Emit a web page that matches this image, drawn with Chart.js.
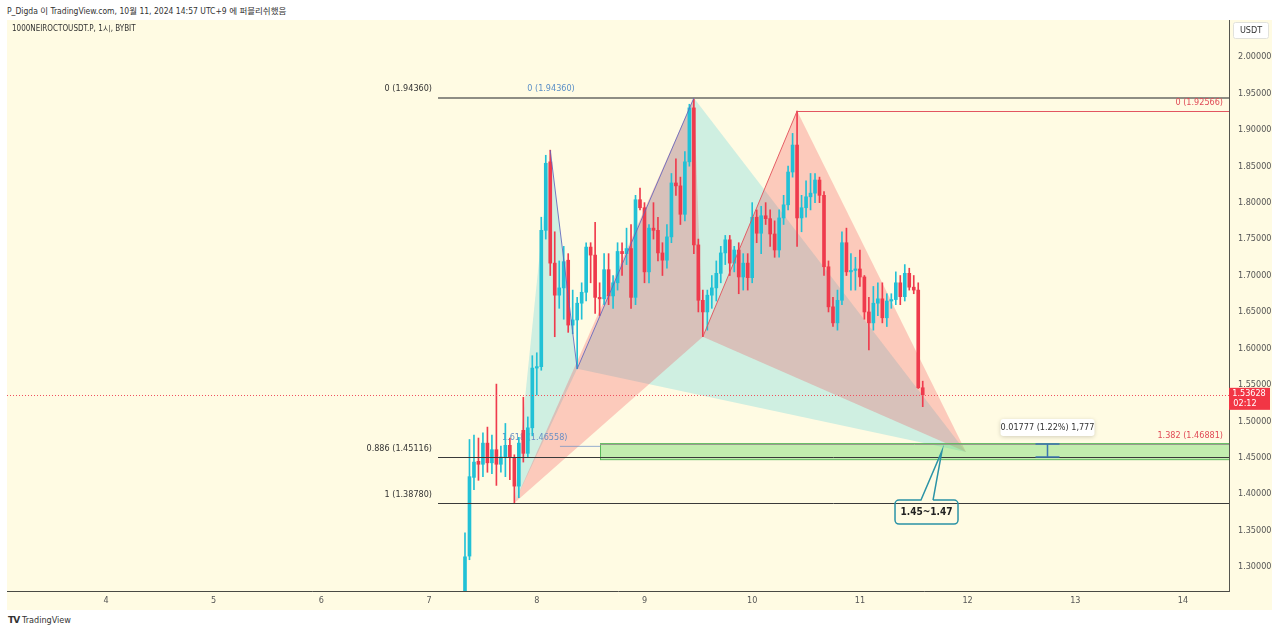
<!DOCTYPE html>
<html>
<head>
<meta charset="utf-8">
<script src="https://cdn.jsdelivr.net/npm/chart.js@4.4.1/dist/chart.umd.min.js"></script>
<style>
  body { margin: 0; background: #fff; width: 1280px; height: 634px; overflow: hidden; position: relative;
         font-family: "Liberation Sans Narrow", "DejaVu Sans Condensed", "Liberation Sans", "Noto Sans CJK KR", sans-serif; }
  #hdr { position: absolute; left: 7px; top: 4px; font-size: 8.5px; color: #333; white-space: nowrap; }
  #panel { position: absolute; left: 7px; top: 20px; width: 1265px; height: 590px; background: #fffbe3; }
  #foot { position: absolute; left: 8px; top: 615px; font-size: 9px; color: #333; white-space: nowrap; }
  #foot b { font-family: "DejaVu Sans", sans-serif; font-size: 9px; letter-spacing: -1px; margin-right: 3px; }
</style>
</head>
<body>
<div id="hdr">P_Digda 이 TradingView.com, 10월 11, 2024 14:57 UTC+9 에 퍼블리쉬했음</div>
<div id="panel"><canvas id="c"></canvas></div>
<div id="foot"><b>TV</b>TradingView</div>
<script>
// 1h candles, first one at day 7 08:00 (UTC+9)
const firstDay = 7;
const firstHour = 8;
const opens = [1.240, 1.315, 1.423, 1.445, 1.441, 1.470, 1.443, 1.461, 1.441, 1.451,
  1.467, 1.450, 1.411, 1.4876, 1.456, 1.491, 1.573, 1.575, 1.762, 1.856,
  1.717, 1.673, 1.683, 1.721, 1.632, 1.639, 1.662, 1.677, 1.739, 1.728,
  1.670, 1.668, 1.708, 1.672, 1.690, 1.733, 1.730, 1.737, 1.670, 1.804,
  1.793, 1.705, 1.765, 1.762, 1.731, 1.721, 1.753, 1.827, 1.823, 1.784,
  1.856, 1.930, 1.742, 1.666, 1.650, 1.673, 1.683, 1.703, 1.731, 1.749,
  1.717, 1.735, 1.698, 1.717, 1.697, 1.780, 1.758, 1.782, 1.778, 1.757,
  1.735, 1.779, 1.797, 1.842, 1.879, 1.779, 1.793, 1.808, 1.813, 1.831,
  1.810, 1.712, 1.657, 1.635, 1.666, 1.745, 1.705, 1.707, 1.709, 1.698,
  1.650, 1.635, 1.662, 1.668, 1.642, 1.665, 1.667, 1.690, 1.671, 1.703,
  1.684, 1.680, 1.546];
const highs = [1.347, 1.475, 1.481, 1.477, 1.484, 1.492, 1.481, 1.551, 1.466, 1.497,
  1.477, 1.454, 1.478, 1.533, 1.506, 1.590, 1.594, 1.780, 1.865, 1.872,
  1.760, 1.720, 1.740, 1.730, 1.680, 1.670, 1.690, 1.745, 1.745, 1.773,
  1.690, 1.730, 1.730, 1.700, 1.745, 1.745, 1.765, 1.770, 1.810, 1.820,
  1.800, 1.770, 1.800, 1.780, 1.745, 1.770, 1.840, 1.860, 1.835, 1.870,
  1.935, 1.9436, 1.750, 1.680, 1.680, 1.700, 1.720, 1.740, 1.755, 1.755,
  1.740, 1.745, 1.730, 1.730, 1.800, 1.790, 1.795, 1.800, 1.790, 1.775,
  1.790, 1.810, 1.850, 1.895, 1.92566, 1.810, 1.830, 1.840, 1.840, 1.835,
  1.815, 1.720, 1.670, 1.680, 1.760, 1.765, 1.730, 1.725, 1.735, 1.700,
  1.670, 1.685, 1.690, 1.690, 1.675, 1.675, 1.705, 1.700, 1.715, 1.710,
  1.700, 1.690, 1.555];
const lows = [1.220, 1.310, 1.406, 1.419, 1.424, 1.430, 1.428, 1.412, 1.430, 1.424,
  1.420, 1.3878, 1.395, 1.444, 1.450, 1.480, 1.536, 1.570, 1.750, 1.700,
  1.616, 1.655, 1.640, 1.622, 1.620, 1.572, 1.640, 1.665, 1.690, 1.648,
  1.645, 1.660, 1.660, 1.655, 1.680, 1.700, 1.715, 1.655, 1.660, 1.790,
  1.690, 1.690, 1.750, 1.720, 1.700, 1.710, 1.745, 1.810, 1.770, 1.775,
  1.850, 1.730, 1.650, 1.616, 1.625, 1.655, 1.665, 1.690, 1.715, 1.700,
  1.705, 1.675, 1.680, 1.680, 1.690, 1.745, 1.730, 1.770, 1.740, 1.725,
  1.725, 1.770, 1.790, 1.835, 1.740, 1.760, 1.780, 1.790, 1.800, 1.800,
  1.700, 1.650, 1.630, 1.625, 1.660, 1.700, 1.680, 1.680, 1.685, 1.640,
  1.598, 1.625, 1.645, 1.635, 1.630, 1.655, 1.660, 1.660, 1.665, 1.680,
  1.675, 1.545, 1.520];
const closes = [1.314, 1.424, 1.444, 1.441, 1.470, 1.443, 1.461, 1.441, 1.451, 1.467,
  1.450, 1.411, 1.470, 1.456, 1.491, 1.573, 1.575, 1.762, 1.854, 1.717,
  1.673, 1.683, 1.719, 1.632, 1.639, 1.662, 1.677, 1.739, 1.728, 1.670,
  1.668, 1.708, 1.672, 1.690, 1.733, 1.730, 1.737, 1.670, 1.804, 1.793,
  1.705, 1.765, 1.762, 1.731, 1.721, 1.753, 1.827, 1.823, 1.784, 1.856,
  1.930, 1.742, 1.666, 1.650, 1.673, 1.683, 1.703, 1.731, 1.749, 1.717,
  1.735, 1.698, 1.717, 1.697, 1.780, 1.758, 1.782, 1.778, 1.757, 1.735,
  1.779, 1.797, 1.842, 1.879, 1.779, 1.793, 1.808, 1.813, 1.831, 1.810,
  1.712, 1.657, 1.635, 1.666, 1.745, 1.705, 1.707, 1.709, 1.698, 1.650,
  1.635, 1.662, 1.668, 1.642, 1.665, 1.667, 1.690, 1.671, 1.703, 1.684,
  1.680, 1.546, 1.53628];

const dayTicks = [4, 5, 6, 7, 8, 9, 10, 11, 12, 13, 14];
const priceTicks = [1.30, 1.35, 1.40, 1.45, 1.50, 1.55, 1.60, 1.65, 1.70, 1.75, 1.80, 1.85, 1.90, 1.95, 2.00];
const xRange = [3.081, 14.427];
const yRange = [1.2671, 2.0506];

// drawings (day, price)
const cyanPivots = [11, 19, 25, 51];          // X A B C candle indexes
const pinkPivots = [11, 51, 53, 74];
const pointD = [11.985, 1.4578];
const fibLeftStart = 7.083;
const fibLevels = [
  { price: 1.9436, label: '0 (1.94360)', color: '#8e8d84', width: 2 },
  { price: 1.45116, label: '0.886 (1.45116)', color: '#3a3a3a', width: 1 },
  { price: 1.3878, label: '1 (1.38780)', color: '#3a3a3a', width: 1 }
];
const zoneTop = 1.4700;
const zoneBottom = 1.4480;
const zoneStart = 8.587;
const lastPrice = 1.53628;

const cUp = '#22c1d6', cDown = '#ef3b4d';
const FONT = '"Liberation Sans Narrow", "DejaVu Sans Condensed", sans-serif';
const times = opens.map((_, i) => firstDay + (firstHour + i) / 24);
const colors = opens.map((o, i) => closes[i] >= o ? cUp : cDown);

function pivotPrice(i, k) { return k % 2 === 0 ? lows[i] : highs[i]; }

const overlay = {
  id: 'overlay',
  beforeDatasetsDraw(chart) {
    const { ctx, chartArea: a, scales: { x, y } } = chart;
    const P = (d, p) => [x.getPixelForValue(d), y.getPixelForValue(p)];
    const piv = (arr) => arr.map((i, k) => P(times[i], pivotPrice(i, k)));
    ctx.save();
    ctx.beginPath(); ctx.rect(a.left, a.top, a.width, a.height); ctx.clip();

    function tri(pts, fill) {
      ctx.beginPath();
      ctx.moveTo(pts[0][0], pts[0][1]);
      ctx.lineTo(pts[1][0], pts[1][1]);
      ctx.lineTo(pts[2][0], pts[2][1]);
      ctx.closePath();
      ctx.fillStyle = fill; ctx.fill();
    }
    const D = P(pointD[0], pointD[1]);
    const cp = piv(cyanPivots), pp = piv(pinkPivots);
    tri([cp[0], cp[1], cp[2]], 'rgba(38,198,218,0.22)');
    tri([cp[2], cp[3], D], 'rgba(38,198,218,0.22)');
    tri([pp[0], pp[1], pp[2]], 'rgba(242,54,69,0.25)');
    tri([pp[2], pp[3], D], 'rgba(242,54,69,0.25)');

    // target zone
    const z1 = P(zoneStart, zoneTop), z2 = P(xRange[1], zoneBottom);
    ctx.fillStyle = 'rgba(120,220,110,0.45)';
    ctx.fillRect(z1[0], z1[1], z2[0] - z1[0], z2[1] - z1[1]);
    ctx.strokeStyle = '#5cb85c'; ctx.lineWidth = 1;
    ctx.strokeRect(z1[0] + 0.5, z1[1] + 0.5, z2[0] - z1[0], z2[1] - z1[1]);

    // blue fib label partly hidden by candles
    ctx.font = '9px ' + FONT;
    ctx.textBaseline = 'middle';
    ctx.fillStyle = '#6a8fc4'; ctx.textAlign = 'left';
    const bl = P(8.215, 1.46558);
    ctx.fillText('1.618 (1.46558)', bl[0] - 58, bl[1] - 9);
    ctx.strokeStyle = 'rgba(106,143,196,0.7)';
    ctx.beginPath(); ctx.moveTo(bl[0], bl[1]); ctx.lineTo(P(zoneStart, 0)[0], bl[1]); ctx.stroke();
    ctx.restore();
  },
  afterDatasetsDraw(chart) {
    const { ctx, chartArea: a, scales: { x, y } } = chart;
    const P = (d, p) => [x.getPixelForValue(d), y.getPixelForValue(p)];
    const piv = (arr) => arr.map((i, k) => P(times[i], pivotPrice(i, k)));
    ctx.save();
    ctx.beginPath(); ctx.rect(a.left, a.top, a.width, a.height); ctx.clip();
    ctx.font = '9px ' + FONT;
    ctx.textBaseline = 'middle';

    // fib lines
    fibLevels.forEach(f => {
      const p0 = P(fibLeftStart, f.price);
      const yy = Math.round(p0[1]) + (f.width === 1 ? 0.5 : 0);
      ctx.strokeStyle = f.color; ctx.lineWidth = f.width;
      ctx.beginPath(); ctx.moveTo(p0[0], yy); ctx.lineTo(a.right, yy); ctx.stroke();
      ctx.fillStyle = '#333'; ctx.textAlign = 'right';
      ctx.fillText(f.label, p0[0] - 6, yy - 9);
    });
    ctx.fillStyle = '#5b8fc7'; ctx.textAlign = 'center';
    ctx.fillText('0 (1.94360)', P(8.132, 0)[0], y.getPixelForValue(1.9436) - 9);

    // red fib (second pattern)
    const cTop = P(times[pinkPivots[3]], highs[pinkPivots[3]]);
    const ry = Math.round(cTop[1]) + 0.5;
    ctx.strokeStyle = '#e25560'; ctx.lineWidth = 1;
    ctx.beginPath(); ctx.moveTo(cTop[0], ry); ctx.lineTo(a.right, ry); ctx.stroke();
    ctx.fillStyle = '#e04a56'; ctx.textAlign = 'right';
    ctx.fillText('0 (1.92566)', a.right - 6, ry - 9);
    const r2 = Math.round(y.getPixelForValue(1.46881)) + 0.5;
    ctx.strokeStyle = '#9a9a90';
    ctx.beginPath(); ctx.moveTo(P(zoneStart, 0)[0], r2); ctx.lineTo(a.right, r2); ctx.stroke();
    ctx.fillText('1.382 (1.46881)', a.right - 6, r2 - 9);

    // pattern legs
    const cp = piv(cyanPivots), pp = piv(pinkPivots);
    ctx.lineWidth = 1;
    ctx.strokeStyle = 'rgba(95,100,190,0.85)';
    ctx.beginPath(); ctx.moveTo(cp[1][0], cp[1][1]); ctx.lineTo(cp[2][0], cp[2][1]); ctx.lineTo(cp[3][0], cp[3][1]); ctx.stroke();
    ctx.strokeStyle = 'rgba(226,80,90,0.9)';
    ctx.beginPath(); ctx.moveTo(pp[2][0], pp[2][1]); ctx.lineTo(pp[3][0], pp[3][1]); ctx.stroke();

    // last price dotted line
    const ly = Math.round(y.getPixelForValue(lastPrice));
    ctx.fillStyle = '#f0505e';
    for (let px = a.left; px < a.right; px += 3) ctx.fillRect(px, ly, 1, 1);

    // measure tool
    const mx = Math.round(x.getPixelForValue(12.737)) + 0.5;
    const mt = y.getPixelForValue(1.46881), mb = y.getPixelForValue(1.45104);
    ctx.strokeStyle = '#3a76b0'; ctx.lineWidth = 1.5;
    ctx.beginPath();
    ctx.moveTo(mx - 12, mt); ctx.lineTo(mx + 12, mt);
    ctx.moveTo(mx, mt); ctx.lineTo(mx, mb);
    ctx.moveTo(mx - 12, mb); ctx.lineTo(mx + 12, mb);
    ctx.stroke();
    ctx.shadowColor = 'rgba(0,0,0,0.18)'; ctx.shadowBlur = 4; ctx.shadowOffsetY = 1;
    ctx.fillStyle = '#fff';
    ctx.beginPath(); ctx.roundRect(mx - 47, mt - 25, 94, 17, 3); ctx.fill();
    ctx.shadowColor = 'transparent';
    ctx.fillStyle = '#333'; ctx.textAlign = 'center';
    ctx.fillText('0.01777 (1.22%) 1,777', mx, mt - 16);

    // callout
    const tip = P(11.762, 1.4592);
    const bl = P(11.326, 1.3590), tr = P(11.911, 1.3919);
    const s1 = x.getPixelForValue(11.567), s2 = x.getPixelForValue(11.679);
    const L = bl[0], R = tr[0], T = tr[1], B = bl[1], r = 4;
    ctx.strokeStyle = '#2b93a6'; ctx.lineWidth = 1.5;
    ctx.beginPath();
    ctx.moveTo(s2, T);
    ctx.lineTo(R - r, T); ctx.arcTo(R, T, R, T + r, r);
    ctx.lineTo(R, B - r); ctx.arcTo(R, B, R - r, B, r);
    ctx.lineTo(L + r, B); ctx.arcTo(L, B, L, B - r, r);
    ctx.lineTo(L, T + r); ctx.arcTo(L, T, L + r, T, r);
    ctx.lineTo(s1, T); ctx.lineTo(tip[0], tip[1]); ctx.lineTo(s2, T);
    ctx.stroke();
    ctx.fillStyle = '#222'; ctx.font = 'bold 10px ' + FONT;
    ctx.fillText('1.45~1.47', (L + R) / 2, (T + B) / 2 + 0.5);
    ctx.restore();
  },
  afterDraw(chart) {
    const { ctx, chartArea: a, scales: { y } } = chart;
    ctx.save();
    ctx.font = '9px ' + FONT;
    ctx.textAlign = 'center'; ctx.textBaseline = 'middle';
    // price tag
    const py = y.getPixelForValue(lastPrice);
    ctx.fillStyle = '#f23645';
    ctx.fillRect(a.right, py - 7, 41, 22);
    ctx.fillStyle = '#fff';
    ctx.fillText(lastPrice.toFixed(5), a.right + 20, py - 1);
    ctx.fillText('02:12', a.right + 16, py + 9);
    // currency box
    ctx.fillStyle = '#fff'; ctx.strokeStyle = '#e2e2dc';
    ctx.beginPath(); ctx.roundRect(a.right + 4.5, 2.5, 35, 16, 2); ctx.fill(); ctx.stroke();
    ctx.fillStyle = '#333';
    ctx.fillText('USDT', a.right + 22, 11);
    // symbol title
    ctx.textAlign = 'left';
    ctx.font = '8px ' + FONT;
    ctx.fillText('1000NEIROCTOUSDT.P, 1시, BYBIT', a.left + 5, 9);
    ctx.restore();
  }
};

new Chart(document.getElementById('c'), {
  type: 'bar',
  data: {
    datasets: [
      {
        data: times.map((t, i) => ({ x: t, y: [lows[i], highs[i]] })),
        backgroundColor: colors, barThickness: 1, grouped: false, borderWidth: 0
      },
      {
        data: times.map((t, i) => ({ x: t, y: [opens[i], closes[i]] })),
        backgroundColor: colors, barThickness: 3, grouped: false, borderWidth: 0, minBarLength: 1
      }
    ]
  },
  options: {
    responsive: true,
    maintainAspectRatio: false,
    animation: false,
    events: [],
    layout: { padding: 0 },
    plugins: { legend: { display: false }, tooltip: { enabled: false } },
    scales: {
      x: {
        type: 'linear', min: xRange[0], max: xRange[1], offset: false,
        grid: { display: false, drawTicks: false },
        border: { display: true, color: '#4a4a44', width: 1 },
        ticks: { color: '#555', font: { size: 9, family: FONT }, padding: 4, maxRotation: 0 },
        afterBuildTicks: s => { s.ticks = dayTicks.map(v => ({ value: v })); },
        afterFit: s => { s.height = 19; s.paddingLeft = 0; s.paddingRight = 0; }
      },
      y: {
        position: 'right', min: yRange[0], max: yRange[1],
        grid: { display: false, drawTicks: false },
        border: { display: true, color: '#55554f', width: 1 },
        ticks: { color: '#555', font: { size: 9, family: FONT }, padding: 9, autoSkip: false,
                 callback: v => v.toFixed(5) },
        afterBuildTicks: s => { s.ticks = priceTicks.map(v => ({ value: v })); },
        afterFit: s => { s.width = 43; s.paddingTop = 0; s.paddingBottom = 0; }
      }
    }
  },
  plugins: [overlay]
});
</script>
</body>
</html>
